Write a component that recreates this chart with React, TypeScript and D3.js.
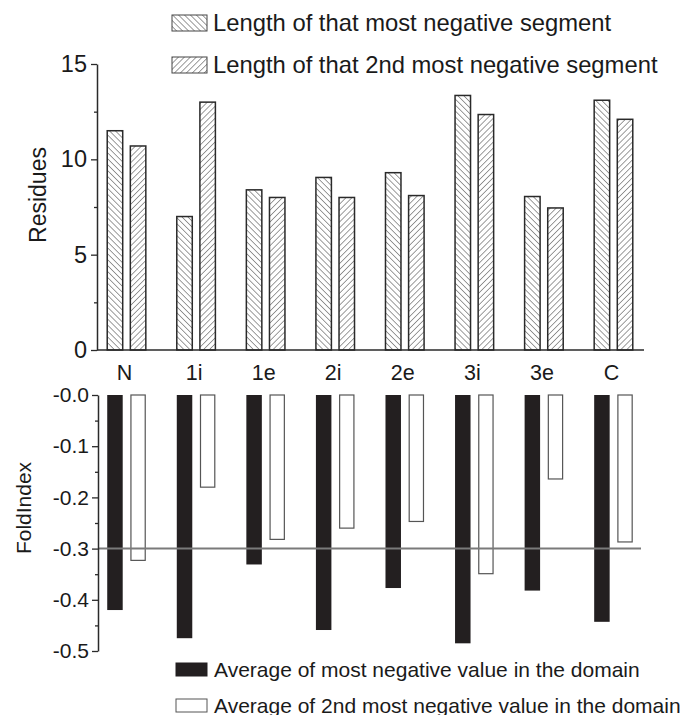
import * as d3 from "d3";
import { useRef, useEffect } from "react";

const domains = ["N", "1i", "1e", "2i", "2e", "3i", "3e", "C"];
const mostNegLength = [11.5, 7.0, 8.4, 9.05, 9.3, 13.35, 8.05, 13.1];
const secondNegLength = [10.7, 13.0, 8.0, 8.0, 8.1, 12.35, 7.45, 12.1];
const mostNegAvg = [-0.42, -0.475, -0.331, -0.459, -0.377, -0.485, -0.382, -0.443];
const secondNegAvg = [-0.323, -0.18, -0.282, -0.26, -0.247, -0.349, -0.164, -0.287];
const residueTicks = [0, 5, 10, 15];
const foldTicks = [0, -0.1, -0.2, -0.3, -0.4, -0.5];
const threshold = -0.3;

const topLegend = ["Length of that most negative segment", "Length of that 2nd most negative segment"];
const bottomLegend = ["Average of most negative value in the domain", "Average of 2nd most negative value in the domain"];

const font = "'Liberation Sans', Arial, sans-serif";
const ink = "#2a2a2a";

export default function App() {
  const width = 686;
  const height = 715;
  const gTopY = useRef(null);
  const gTopMinor = useRef(null);
  const gBotY = useRef(null);
  const gBotMinor = useRef(null);

  const x = d3.scalePoint(domains, [98, 642]).padding(0.41);
  const inner = d3.scaleBand(["a", "b"], [-19.3, 19.3]).paddingInner(0.33);
  const yTop = d3.scaleLinear([0, 15], [350, 64]);
  const yBot = d3.scaleLinear([0, -0.5], [395, 651]);

  const axisX = 97;
  const botAxisX = 98;

  useEffect(() => {
    const ax = d3.select(gTopY.current);
    ax.call(d3.axisLeft(yTop).tickValues(residueTicks).tickSize(6).tickSizeOuter(0).tickPadding(4));
    ax.select(".domain").attr("stroke", ink).attr("stroke-width", 1.5);
    ax.selectAll(".tick line").attr("stroke", ink).attr("stroke-width", 1.3);
    ax.selectAll(".tick text").attr("font-size", 23.5).attr("font-family", font).attr("fill", "#1a1a1a");
    const mn = d3.select(gTopMinor.current);
    mn.call(d3.axisLeft(yTop).tickValues([2.5, 7.5, 12.5]).tickSize(3).tickFormat(() => ""));
    mn.select(".domain").remove();
    mn.selectAll(".tick line").attr("stroke", ink).attr("stroke-width", 1.3);

    const bx = d3.select(gBotY.current);
    bx.call(
      d3.axisLeft(yBot)
        .tickValues(foldTicks)
        .tickSize(6)
        .tickSizeOuter(0)
        .tickPadding(3)
        .tickFormat((d) => (d === 0 ? "-0.0" : (+d).toFixed(1)))
    );
    bx.select(".domain").attr("stroke", ink).attr("stroke-width", 1.5);
    bx.selectAll(".tick line").attr("stroke", ink).attr("stroke-width", 1.3);
    bx.selectAll(".tick text").attr("font-size", 21).attr("font-family", font).attr("fill", "#1a1a1a");
    const bm = d3.select(gBotMinor.current);
    bm.call(d3.axisLeft(yBot).tickValues([-0.05, -0.15, -0.25, -0.35, -0.45]).tickSize(3).tickFormat(() => ""));
    bm.select(".domain").remove();
    bm.selectAll(".tick line").attr("stroke", ink).attr("stroke-width", 1.3);
  }, []);

  const bw = inner.bandwidth();

  return (
    <svg width={width} height={height} style={{ position: "absolute", left: 0, top: 0, background: "#fff" }} fontFamily={font}>
      <defs>
        <pattern id="hatchBack" patternUnits="userSpaceOnUse" width="4.2" height="4.2" patternTransform="rotate(-45)">
          <line x1="0" y1="0" x2="0" y2="4.2" stroke="#3a3a3a" strokeWidth="1" />
        </pattern>
        <pattern id="hatchFwd" patternUnits="userSpaceOnUse" width="4.2" height="4.2" patternTransform="rotate(45)">
          <line x1="0" y1="0" x2="0" y2="4.2" stroke="#3a3a3a" strokeWidth="1" />
        </pattern>
      </defs>

      {/* top chart: residue lengths */}
      <g>
        {domains.map((d, i) => (
          <g key={d} transform={`translate(${x(d)},0)`}>
            <rect x={inner("a")} y={yTop(mostNegLength[i])} width={bw} height={yTop(0) - yTop(mostNegLength[i])}
              fill="url(#hatchBack)" stroke={ink} strokeWidth={1.5} />
            <rect x={inner("b")} y={yTop(secondNegLength[i])} width={bw} height={yTop(0) - yTop(secondNegLength[i])}
              fill="url(#hatchFwd)" stroke={ink} strokeWidth={1.5} />
            <text x={-2} y={380} textAnchor="middle" fontSize={21.5} fill="#1a1a1a">{d}</text>
          </g>
        ))}
        <line x1={axisX} x2={644} y1={yTop(0)} y2={yTop(0)} stroke={ink} strokeWidth={1.5} />
        <g ref={gTopY} transform={`translate(${axisX},0)`} />
        <g ref={gTopMinor} transform={`translate(${axisX},0)`} />
        <text transform={`translate(46,195) rotate(-90)`} textAnchor="middle" fontSize={23} fill="#1a1a1a">Residues</text>
      </g>

      {/* top legend */}
      {topLegend.map((t, i) => (
        <g key={t} transform={`translate(172,${i === 0 ? 15 : 57})`}>
          <rect x={0} y={0} width={35} height={16} fill={i === 0 ? "url(#hatchBack)" : "url(#hatchFwd)"} stroke="#444" strokeWidth={1} />
          <text x={41} y={16} fontSize={23.8} fill="#1a1a1a">{t}</text>
        </g>
      ))}

      {/* bottom chart: FoldIndex */}
      <g>
        {domains.map((d, i) => (
          <g key={d} transform={`translate(${x(d)},0)`}>
            <rect x={inner("a")} y={yBot(0)} width={bw} height={yBot(mostNegAvg[i]) - yBot(0)} fill="#231f20" />
            <rect x={inner("b") + 0.6} y={yBot(0)} width={bw - 1.2} height={yBot(secondNegAvg[i]) - yBot(0)}
              fill="#fff" stroke="#555" strokeWidth={1.2} />
          </g>
        ))}
        <line x1={botAxisX} x2={641} y1={yBot(threshold)} y2={yBot(threshold)} stroke="#7a7a7a" strokeWidth={2} />
        <g ref={gBotY} transform={`translate(${botAxisX},0)`} />
        <g ref={gBotMinor} transform={`translate(${botAxisX},0)`} />
        <text transform={`translate(31,508) rotate(-90)`} textAnchor="middle" fontSize={21} fill="#1a1a1a">FoldIndex</text>
      </g>

      {/* bottom legend */}
      {bottomLegend.map((t, i) => (
        <g key={t} transform={`translate(176,${i === 0 ? 663 : 699})`}>
          <rect x={0} y={0} width={31} height={13} fill={i === 0 ? "#231f20" : "#fff"} stroke={i === 0 ? "#231f20" : "#555"} strokeWidth={1} />
          <text x={38} y={13.5} fontSize={21} fill="#1a1a1a">{t}</text>
        </g>
      ))}
    </svg>
  );
}
